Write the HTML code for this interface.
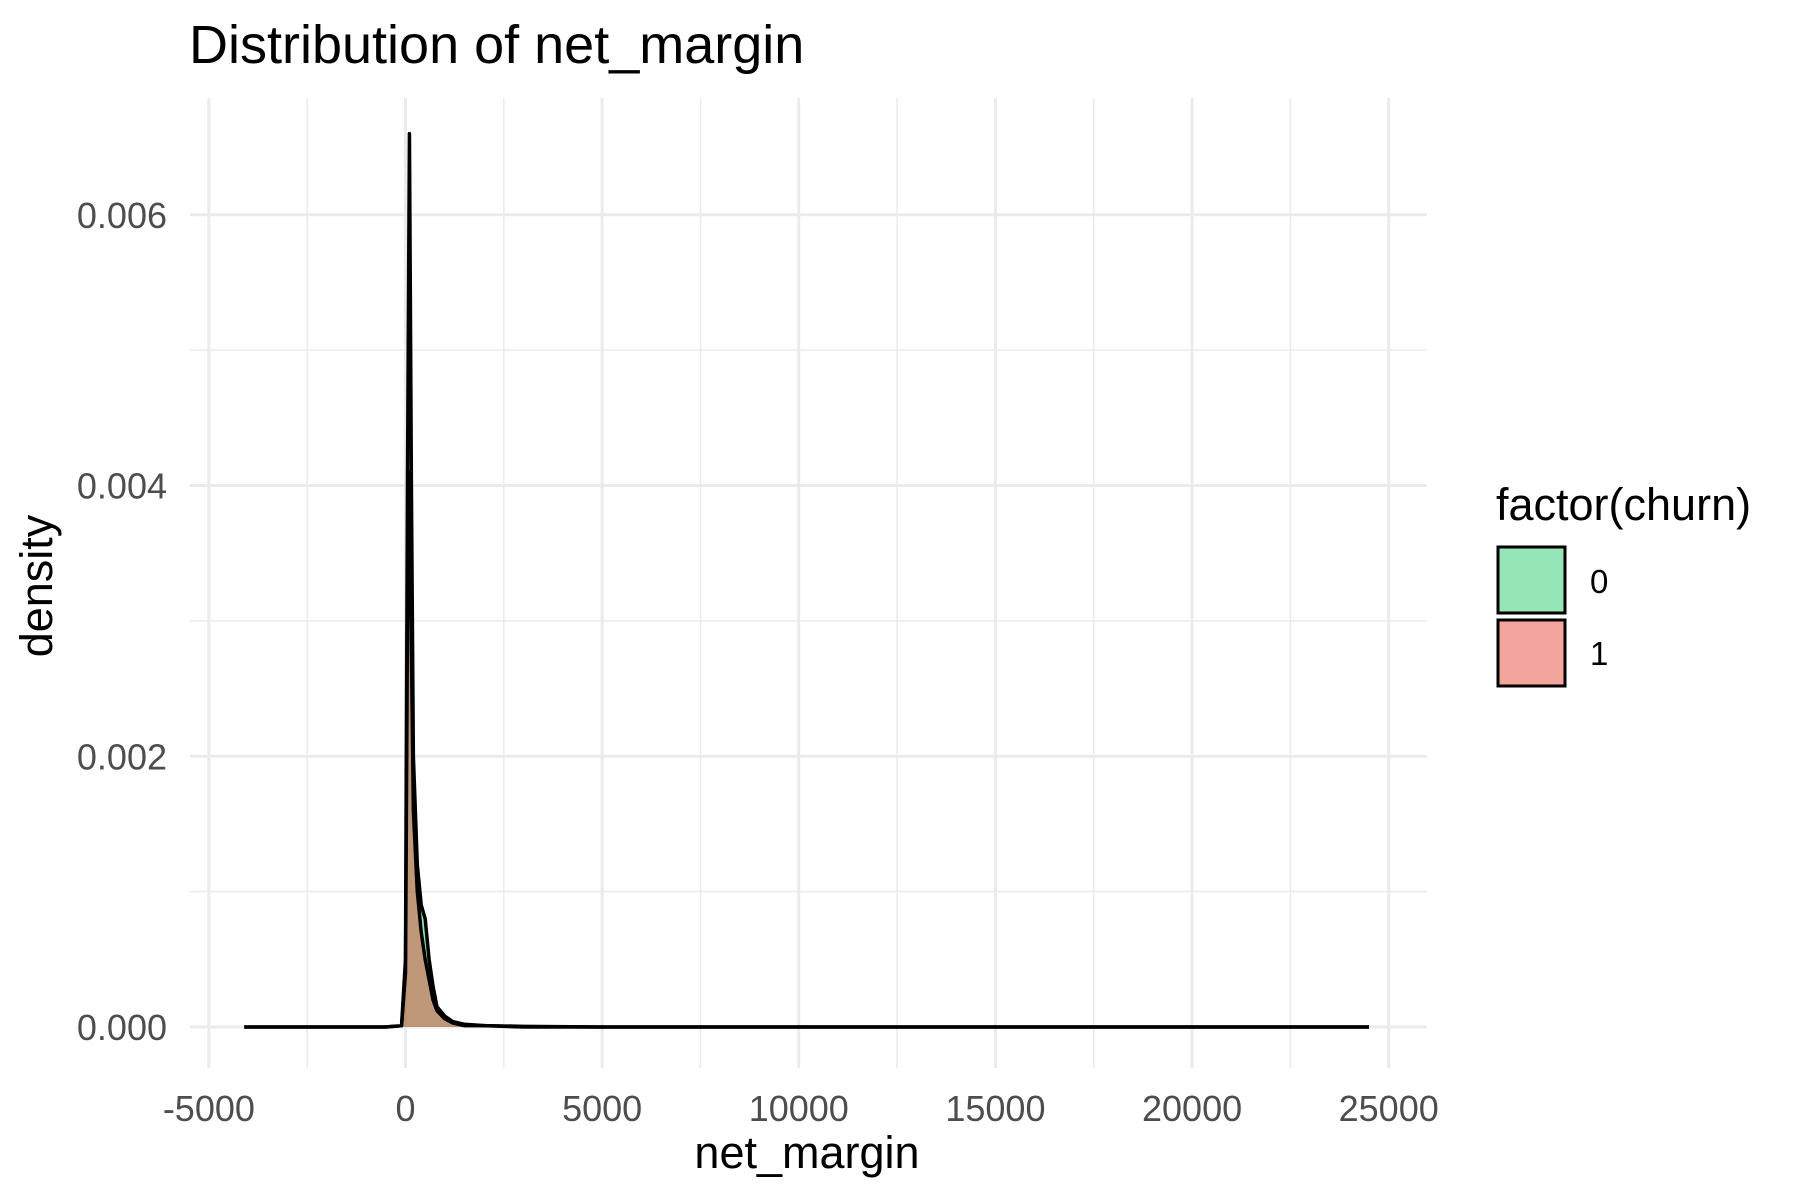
<!DOCTYPE html>
<html><head><meta charset="utf-8"><style>
html,body{margin:0;padding:0;background:#fff;}
svg{display:block;font-family:"Liberation Sans",Arial,sans-serif;}
</style></head><body>
<svg id="chart" width="1800" height="1200" viewBox="0 0 1800 1200">
<text x="189" y="63" font-size="54" fill="#000">Distribution of net_margin</text>
<g id="grid"></g>
<g id="series"></g>
<g id="axes"></g>
<text x="807" y="1168" font-size="45" text-anchor="middle" fill="#000">net_margin</text>
<text transform="translate(52,586) rotate(-90)" font-size="45" text-anchor="middle" fill="#000">density</text>
<g>
<text x="1496" y="520" font-size="45" fill="#000">factor(churn)</text>
<rect x="1498" y="547" width="67" height="66" fill="#96e5b8" stroke="#000" stroke-width="3"/>
<text x="1590" y="593" font-size="33" fill="#000">0</text>
<rect x="1498" y="620" width="67" height="66" fill="#f3a59d" stroke="#000" stroke-width="3"/>
<text x="1590" y="665" font-size="33" fill="#000">1</text>
</g>
</svg>
<script>
const xValues=[-4100,-2000,-500,-100,0,50,100,150,200,300,400,500,600,700,800,1000,1200,1500,2000,3000,5000,24500];
const density0=[0,0,0,0.00001,0.0005,0.004,0.0066,0.004,0.002,0.0012,0.0009,0.0008,0.0005,0.0003,0.00015,0.00008,0.00004,0.00002,0.00001,0.000005,0,0];
const density1=[0,0,0,0.00001,0.0004,0.003,0.0041,0.0028,0.0016,0.001,0.0007,0.0005,0.00035,0.0002,0.00012,0.00006,0.00003,0.00001,0.00001,0,0,0];
const xTicks=[-5000,0,5000,10000,15000,20000,25000];
const xTickLabels=["-5000","0","5000","10000","15000","20000","25000"];
const yTicks=[0,0.002,0.004,0.006];
const yTickLabels=["0.000","0.002","0.004","0.006"];

const NS="http://www.w3.org/2000/svg";
const PL=190,PR=1427,PT=98,PB=1068;
function sx(v){return 405.5+v*(1388.7-405.5)/25000;}
function sy(v){return 1027-v*(1027-214.8)/0.006;}
function mk(tag,attrs,parent){const e=document.createElementNS(NS,tag);for(const k in attrs)e.setAttribute(k,attrs[k]);parent.appendChild(e);return e;}
const grid=document.getElementById('grid'),series=document.getElementById('series'),axes=document.getElementById('axes');
for(let i=0;i<xTicks.length-1;i++){const m=(xTicks[i]+xTicks[i+1])/2;
 const l=mk('line',{x1:sx(m),x2:sx(m),y1:PT,y2:PB,stroke:'#ebebeb','stroke-width':1.5},grid);
 
 }
for(let i=0;i<yTicks.length-1;i++){const m=(yTicks[i]+yTicks[i+1])/2;
 const l=mk('line',{x1:PL,x2:PR,y1:sy(m),y2:sy(m),stroke:'#ebebeb','stroke-width':1.5},grid);
 
 }
xTicks.forEach((t,i)=>{
 const l=mk('line',{x1:sx(t),x2:sx(t),y1:PT,y2:PB,stroke:'#ebebeb','stroke-width':3},grid);
 
 
 const tx=mk('text',{x:sx(t),y:1121,'font-size':36,'text-anchor':'middle',fill:'#4d4d4d'},axes);
 tx.textContent=xTickLabels[i];
 
 
});
yTicks.forEach((t,i)=>{
 const l=mk('line',{x1:PL,x2:PR,y1:sy(t),y2:sy(t),stroke:'#ebebeb','stroke-width':3},grid);
 
 
 const tx=mk('text',{x:167,y:sy(t)+13,'font-size':36,'text-anchor':'end',fill:'#4d4d4d'},axes);
 tx.textContent=yTickLabels[i];
 
 
});
function area(d,fill,name){
 let p='M'+sx(xValues[0])+','+sy(0);
 xValues.forEach((x,i)=>{p+=' L'+sx(x)+','+sy(d[i]);});
 p+=' L'+sx(xValues[xValues.length-1])+','+sy(0)+' Z';
 const a=mk('path',{d:p,fill:fill,'fill-opacity':0.5,stroke:'none'},series);
 
 
 let q='';xValues.forEach((x,i)=>{q+=(i?' L':'M')+sx(x)+','+sy(d[i]);});
 const l=mk('path',{d:q,fill:'none',stroke:'#000','stroke-width':3.5,'stroke-linejoin':'round'},series);
 
 
}
area(density0,'#2ecc71','density-churn-0');
area(density1,'#e74c3c','density-churn-1');
</script>
</body></html>
